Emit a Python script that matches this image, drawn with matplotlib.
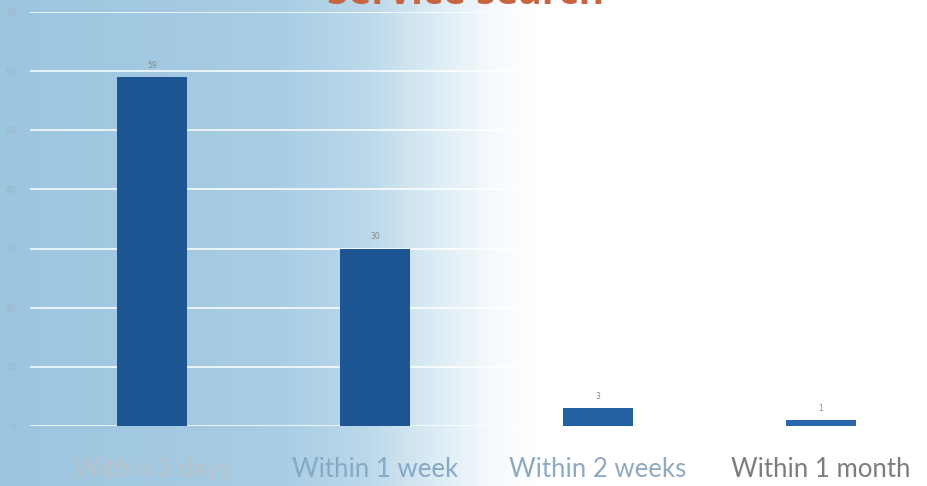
import numpy as np
import matplotlib.pyplot as plt
from matplotlib.colors import LinearSegmentedColormap

categories = ['Within 3 days', 'Within 1 week', 'Within 2 weeks', 'Within 1 month']
counts = [59, 30, 3, 1]
yticks = [0, 10, 20, 30, 40, 50, 60, 70]
label_colors = ['#b9c2ca', '#86a9c6', '#8fa9c0', '#7d7d7d']

W, H = 927, 486
fig = plt.figure(figsize=(W / 100, H / 100), dpi=100)

# background: light blue on the left fading to white
bg = fig.add_axes([0, 0, 1, 1])
cmap = LinearSegmentedColormap.from_list(
    'bg', [(0.0, '#9cc5df'), (0.30, '#a8cde4'), (0.40, '#bcd9ea'),
           (0.47, '#dcebf4'), (0.53, '#f6fafd'), (0.58, '#ffffff'),
           (1.0, '#ffffff')])
grad = np.linspace(0, 1, 512).reshape(1, -1)
bg.imshow(grad, aspect='auto', cmap=cmap, extent=[0, 1, 0, 1])
bg.set_axis_off()

ax = fig.add_axes([30 / W, 60 / H, (W - 30) / W, 414 / H])
ax.patch.set_alpha(0)
x = np.arange(len(categories))
bar_colors = ['#1c5592', '#1c5592', '#2260a2', '#2a66ae']
ax.bar(x, counts, width=0.31, color=bar_colors, zorder=3)

for xi, v in zip(x, counts):
    ax.text(xi, v + 1.2, str(v), ha='center', va='bottom',
            fontsize=5.5, color='#8a8a8a', zorder=4)

ax.set_xlim(-0.547, 3.475)
ax.set_ylim(0, 70)
ax.set_yticks(yticks)
for yv in yticks:
    ax.axhline(yv, color='white', lw=1.3, alpha=0.85, zorder=1)
ax.set_yticklabels([str(v) for v in yticks], fontsize=6, color='#9db4c6')
ax.tick_params(axis='y', length=0, pad=10)
ax.set_xticks(x)
ax.set_xticklabels(categories, fontsize=18.5, family='Lato')
for lbl, c in zip(ax.get_xticklabels(), label_colors):
    lbl.set_color(c)
ax.tick_params(axis='x', length=0, pad=22)
for s in ax.spines.values():
    s.set_visible(False)

fig.text(466 / W, 1.0 + 6 / H, 'Service search', ha='center', va='center',
         fontsize=28, fontweight='bold', color='#c8643f', family='Open Sans')

fig.savefig('out.png', dpi=100)
